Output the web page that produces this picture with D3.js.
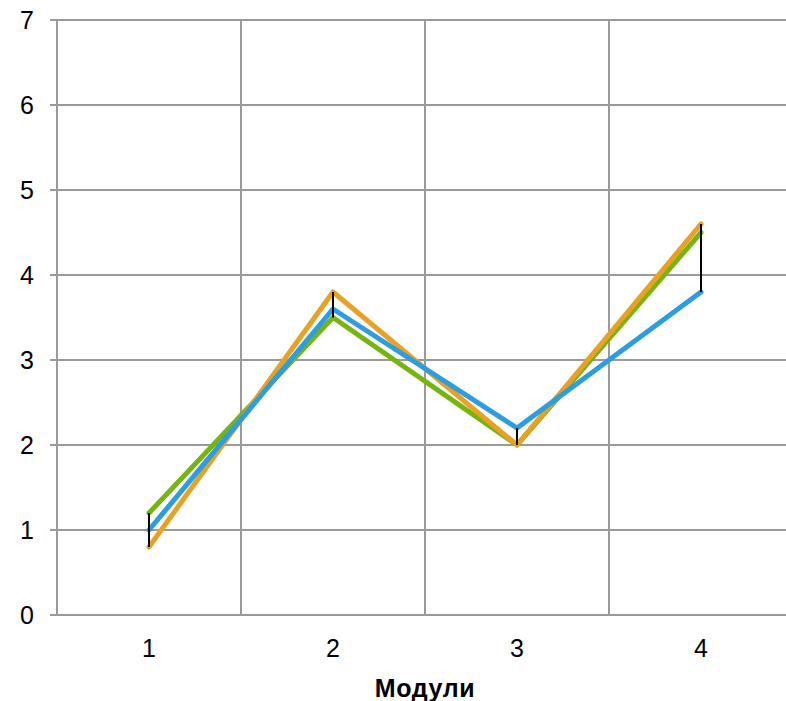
<!DOCTYPE html>
<html>
<head>
<meta charset="utf-8">
<script src="https://cdn.jsdelivr.net/npm/d3@7"></script>
<style>
html,body{margin:0;padding:0;background:#fff;}
svg{display:block;}
</style>
</head>
<body>
<svg id="chart" width="786" height="701"></svg>
<script>
const categories = ["1", "2", "3", "4"];
const yTicks = [0, 1, 2, 3, 4, 5, 6, 7];
const greenValues = [1.2, 3.5, 2.0, 4.5];
const orangeValues = [0.8, 3.8, 2.0, 4.6];
const blueValues = [1.0, 3.6, 2.2, 3.8];
const xTitle = "Модули";

const series = [
  {name: "green", values: greenValues, color: "#78b40f"},
  {name: "orange", values: orangeValues, color: "#e8a123"},
  {name: "blue", values: blueValues, color: "#2c9de0"}
];

const svg = d3.select("#chart");
const mLeft = 57, mRight = 793, mTop = 20, mBottom = 615;

const x = d3.scaleBand().domain(categories).range([mLeft, mRight]).paddingInner(0).paddingOuter(0);
const y = d3.scaleLinear().domain([0, 7]).range([mBottom, mTop]);
const cx = c => x(c) + x.bandwidth() / 2;

const grid = svg.append("g");
grid.selectAll("line.h").data(yTicks).join("line")
  .attr("class", "h")
  .attr("x1", mLeft - 7).attr("x2", 786)
  .attr("y1", d => y(d)).attr("y2", d => y(d))
  .attr("stroke", "#9a9a9a").attr("stroke-width", 2);
const bounds = categories.map(c => x(c)).concat([x(categories[categories.length-1]) + x.bandwidth()]);
grid.selectAll("line.v").data(bounds).join("line")
  .attr("class", "v")
  .attr("x1", d => d).attr("x2", d => d)
  .attr("y1", mTop).attr("y2", mBottom)
  .attr("stroke", "#9a9a9a").attr("stroke-width", 2);

svg.append("g").selectAll("text").data(yTicks).join("text")
  .attr("x", 34).attr("y", d => y(d)).attr("dy", "0.36em")
  .attr("text-anchor", "end")
  .attr("font-family", "Liberation Sans, Arial, sans-serif")
  .attr("font-size", 25).attr("fill", "#000")
  .text(d => d);

svg.append("g").selectAll("text").data(categories).join("text")
  .attr("x", d => cx(d)).attr("y", 657)
  .attr("text-anchor", "middle")
  .attr("font-family", "Liberation Sans, Arial, sans-serif")
  .attr("font-size", 25).attr("fill", "#000")
  .text(d => d);

svg.append("text")
  .attr("x", (mLeft + mRight) / 2).attr("y", 697)
  .attr("text-anchor", "middle")
  .attr("font-family", "Liberation Sans, Arial, sans-serif")
  .attr("font-size", 25).attr("font-weight", "bold").attr("fill", "#000")
  .attr("letter-spacing", 0.6)
  .text(xTitle);

const line = d3.line().x((d, i) => cx(categories[i])).y(d => y(d));
svg.append("g").selectAll("path").data(series).join("path")
  .attr("d", d => line(d.values))
  .attr("fill", "none")
  .attr("stroke", d => d.color)
  .attr("stroke-width", 5)
  .attr("stroke-linejoin", "round")
  .attr("stroke-linecap", "round");

svg.append("g").selectAll("line").data(categories).join("line")
  .attr("x1", d => cx(d)).attr("x2", d => cx(d))
  .attr("y1", (d, i) => y(d3.max(series, s => s.values[i])))
  .attr("y2", (d, i) => y(d3.min(series, s => s.values[i])))
  .attr("stroke", "#000").attr("stroke-width", 2);
</script>
</body>
</html>
